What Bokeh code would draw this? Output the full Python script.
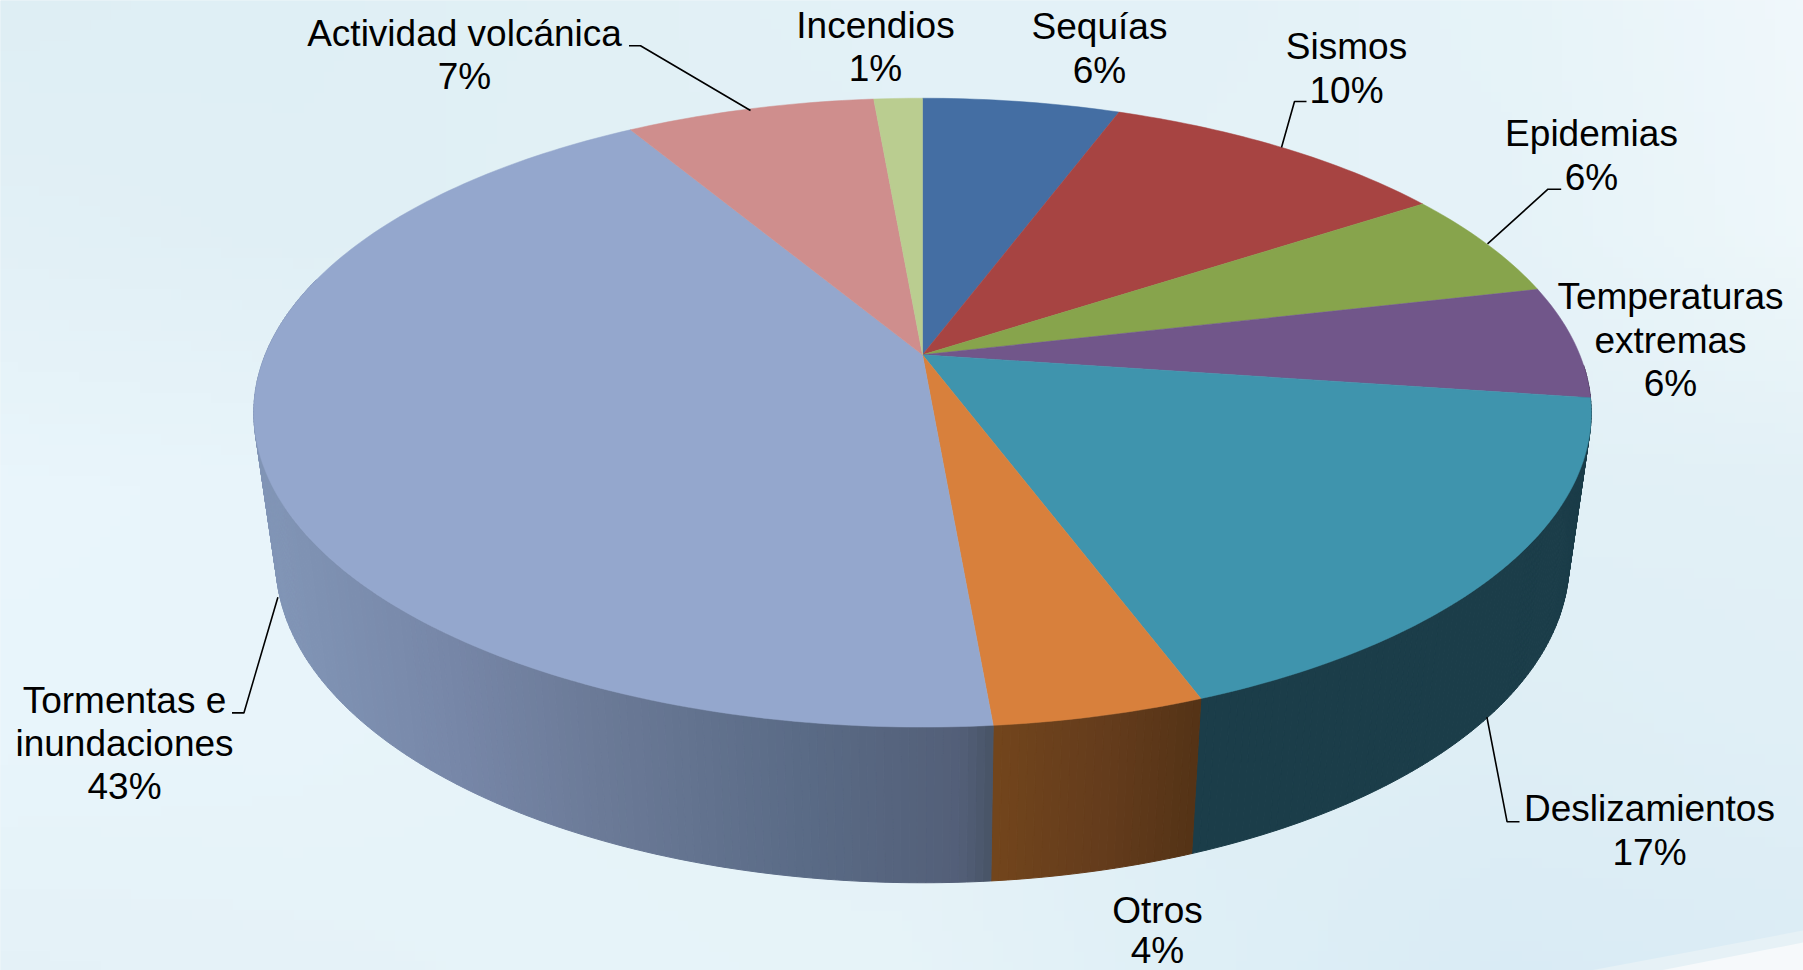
import numpy as np
from bokeh.plotting import figure
from bokeh.models import Range1d
from bokeh.core.properties import value
from bokeh.embed import file_html
from bokeh.resources import INLINE

# ---- data (shares, clockwise from 12 o'clock)
categories = ["Sequías", "Sismos", "Epidemias", "Temperaturas extremas", "Deslizamientos",
              "Otros", "Tormentas e inundaciones", "Actividad volcánica", "Incendios"]
shares = [5.7, 10.1, 5.6, 5.8, 17.1, 4.3, 42.8, 7.2, 1.4]
top_colors = ["#446ea3", "#a74442", "#87a44c", "#71568a", "#3f94ad",
              "#d8803c", "#94a7cd", "#cf8e8d", "#bacd90"]
# side shading as (x pixel, colour) stops
side_stops = {
    "Temperaturas extremas": [(0, "#41304f"), (1803, "#41304f")],
    "Deslizamientos": [(0, "#1b3d49"), (1803, "#1b3d49")],
    "Otros": [(992, "#72451c"), (1100, "#653c1c"), (1195, "#543316")],
    "Tormentas e inundaciones": [(272, "#8195b6"), (450, "#7787a8"), (600, "#6b7a97"),
                                 (800, "#5a6b86"), (960, "#535f78"), (992, "#475365")],
}
label_rows = [
    ("Actividad volcánica", 464, 45), ("7%", 464, 88),
    ("Incendios", 875, 37), ("1%", 875, 80),
    ("Sequías", 1099, 38), ("6%", 1099, 82),
    ("Sismos", 1346, 58), ("10%", 1346, 102),
    ("Epidemias", 1591, 145), ("6%", 1591, 189),
    ("Temperaturas", 1670, 308), ("extremas", 1670, 352), ("6%", 1670, 395),
    ("Tormentas e", 124, 712), ("inundaciones", 124, 755), ("43%", 124, 798),
    ("Deslizamientos", 1649, 820), ("17%", 1649, 864),
    ("Otros", 1157, 922), ("4%", 1157, 962),
]
leaders = [
    [(628.5, 45.3), (640, 45.3), (750, 110)],
    [(1306, 101), (1294, 101), (1281, 147)],
    [(1560.7, 188.7), (1547.5, 188.7), (1487, 243.3)],
    [(231.5, 712.4), (243.4, 712.4), (277.4, 596.7)],
    [(1519, 821.3), (1506.6, 821.3), (1486.4, 716.7)],
]
bg_grid = [
    ["deeef4", "dfeff5", "e1f0f5", "e3f1f7", "e3f1f7", "e6f3f8", "f0f7fb"],
    ["e2f0f6", "e0eff5", "e1f0f5", "e2f0f6", "e4f2f7", "e5f2f8", "eef7fa"],
    ["e9f5fb", "e8f4fa", "e4f1f7", "e2f0f6", "e2f0f6", "e1f0f6", "e2f0f6"],
    ["e8f5fb", "e8f4fa", "e6f3f8", "e4f1f7", "dfeef5", "deeef5", "e0eff6"],
    ["e4f1f7", "e5f2f8", "e6f3f9", "e6f3f8", "deeff6", "d9ebf5", "dbecf5"],
]
corner_streak = [
    ("#e6f1f6", [1590, 1803, 1803], [970, 930, 970]),
    ("#f6f9fb", [1660, 1803, 1803], [970, 942, 970]),
]

# ---- page / projection parameters (pixels of the 1803x970 picture)
W, H = 1803, 970
CX, CY, A, B, K = 922.0, 354.3, 657.3, 303.8, 0.184
BOT_X, BOT_Y, BOT_CY = 0.967, 1.0227, 501.5
LABEL_DY = -12


def project(theta, bottom=False):
    u, v = np.sin(theta), np.cos(theta)
    w = 1 + K * v
    if bottom:
        return CX + BOT_X * A * u / w, BOT_CY - BOT_Y * B * v / w
    return CX + A * u / w, CY - B * v / w


def hex_rgb(h):
    h = h.lstrip("#")
    return [int(h[i:i + 2], 16) for i in (0, 2, 4)]


def shade(stops, x):
    xs = [s[0] for s in stops]
    rgb = np.array([hex_rgb(s[1]) for s in stops], float)
    c = [np.interp(x, xs, rgb[:, i]) for i in range(3)]
    return "#%02x%02x%02x" % tuple(int(round(t)) for t in c)


p = figure(width=W, height=H, output_backend="svg", toolbar_location=None,
           x_range=Range1d(0, W), y_range=Range1d(-H, 0),
           min_border=0, outline_line_color=None, background_fill_color="#e3f1f7",
           border_fill_color="#e3f1f7")
p.axis.visible = False
p.grid.visible = False

# ---- background
grid = np.array([[hex_rgb(c) for c in row] for row in bg_grid], float)
ny, nx = 96, 180
gx = np.linspace(0, grid.shape[1] - 1, nx)
gy = np.linspace(0, grid.shape[0] - 1, ny)
tmp = np.stack([[np.interp(gx, np.arange(grid.shape[1]), grid[r, :, c])
                 for r in range(grid.shape[0])] for c in range(3)], axis=0)
rgb = np.stack([[np.interp(gy, np.arange(grid.shape[0]), tmp[c, :, i])
                 for i in range(nx)] for c in range(3)], axis=0)  # c, x, y
img = np.zeros((ny, nx), dtype=np.uint32)
view = img.view(dtype=np.uint8).reshape((ny, nx, 4))
for c in range(3):
    view[:, :, c] = np.round(rgb[c].T[::-1]).astype(np.uint8)
view[:, :, 3] = 255
p.image_rgba(image=[img], x=-12, y=-(H + 12), dw=W + 24, dh=H + 24)
for col, xs, ys in corner_streak:
    p.patch(xs, [-y for y in ys], fill_color=col, line_color=None)

# ---- slices
bounds = np.radians(np.cumsum([0] + shares) * 3.6)

# sides
sx, sy, sc = [], [], []
for name, a0, a1, col in zip(categories, bounds[:-1], bounds[1:], top_colors):
    if name not in side_stops:
        continue
    lo, hi = max(a0, np.radians(92)), min(a1, np.radians(285))
    if hi <= lo:
        continue
    n = max(2, int((hi - lo) / np.radians(0.6)))
    th = np.linspace(lo, hi, n + 1)
    for t0, t1 in zip(th[:-1], th[1:]):
        x0, y0 = project(t0)
        x1, y1 = project(t1)
        x2, y2 = project(t1, True)
        x3, y3 = project(t0, True)
        sx.append([x0, x1, x2, x3])
        sy.append([-y0, -y1, -y2, -y3])
        sc.append(shade(side_stops[name], (x0 + x1 + x2 + x3) / 4))
p.patches(sx, sy, fill_color=sc, line_color=sc, line_width=1)

# top
tx, ty = [], []
for a0, a1 in zip(bounds[:-1], bounds[1:]):
    th = np.linspace(a0, a1, max(3, int((a1 - a0) / np.radians(1.0))))
    ex, ey = project(th)
    tx.append([CX] + list(ex))
    ty.append([-CY] + list(-ey))
p.patches(tx, ty, fill_color=top_colors, line_color=top_colors, line_width=0.5)

# ---- leaders and labels
for pts in leaders:
    p.line([q[0] for q in pts], [-q[1] for q in pts], line_color="#000000", line_width=1.6)

p.text([r[1] for r in label_rows], [-(r[2] + LABEL_DY) for r in label_rows],
       text=[r[0] for r in label_rows],
       text_font=value("Liberation Sans"), text_font_size="37px", text_color="#000000",
       text_align="center", text_baseline="alphabetic")

open("out.html", "w").write(file_html(p, INLINE))
